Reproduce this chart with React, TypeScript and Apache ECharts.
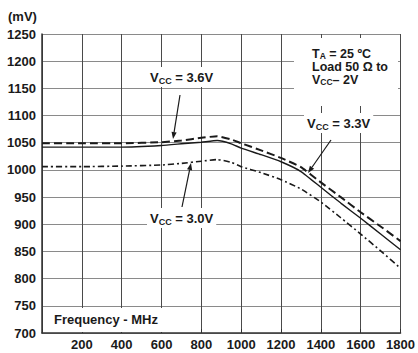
import React, { useEffect, useRef } from "react";
import * as echarts from "echarts";

const freq = [0, 200, 400, 600, 700, 800, 880, 950, 1000, 1100, 1200, 1300, 1400, 1500, 1600, 1700, 1800];
const vcc36 = [1049, 1049, 1049, 1051, 1054, 1059, 1062, 1056, 1049, 1036, 1022, 1005, 977, 950, 922, 896, 869];
const vcc33 = [1042, 1042, 1042, 1045, 1048, 1051, 1054, 1048, 1040, 1028, 1015, 997, 968, 939, 911, 882, 853];
const vcc30 = [1006, 1006, 1007, 1009, 1012, 1016, 1019, 1014, 1006, 995, 982, 965, 941, 912, 882, 851, 819];

const yMin = 700;
const yMax = 1250;
const yStep = 50;
const xMin = 0;
const xMax = 1800;
const xStep = 200;

const FONT = "'Liberation Sans', Arial, sans-serif";
const INK = "#1a1a1a";

function arrow(x1: number, y1: number, x2: number, y2: number) {
  const dx = x2 - x1;
  const dy = y2 - y1;
  const L = Math.sqrt(dx * dx + dy * dy);
  const ux = dx / L;
  const uy = dy / L;
  const len = 7;
  const w = 2.6;
  const bx = x2 - ux * len;
  const by = y2 - uy * len;
  const px = -uy;
  const py = ux;
  return [
    {
      type: "line",
      z: 5,
      shape: { x1, y1, x2: bx, y2: by },
      style: { stroke: INK, lineWidth: 1.2 },
    },
    {
      type: "polygon",
      z: 5,
      shape: {
        points: [
          [x2, y2],
          [bx + px * w, by + py * w],
          [bx - px * w, by - py * w],
        ],
      },
      style: { fill: INK },
    },
  ];
}

const rich = {
  b: { fontFamily: FONT, fontWeight: "bold", fontSize: 13, lineHeight: 16, color: INK },
  s: { fontFamily: FONT, fontWeight: "bold", fontSize: 9, lineHeight: 9, color: INK, verticalAlign: "bottom" },
};

const richBlock = {
  b: { fontFamily: FONT, fontWeight: "bold", fontSize: 12.5, lineHeight: 13, color: INK },
  s: { fontFamily: FONT, fontWeight: "bold", fontSize: 8.5, lineHeight: 8, color: INK, verticalAlign: "bottom" },
};

function label(x: number, y: number, text: string) {
  return {
    type: "text",
    z: 1,
    x,
    y,
    style: {
      text,
      rich,
      fontFamily: FONT,
      fontWeight: "bold",
      fontSize: 13,
      fill: INK,
      verticalAlign: "middle",
      backgroundColor: "#ffffff",
      padding: [2, 3, 2, 3],
    },
  };
}

export default function App() {
  const ref = useRef<HTMLDivElement>(null);
  useEffect(() => {
    if (!ref.current) return;
    const chart = echarts.init(ref.current, null, { renderer: "svg" });
    const mk = (vals: number[]) => freq.map((f, i) => [f, vals[i]]);
    chart.setOption({
      animation: false,
      backgroundColor: "#ffffff",
      grid: { left: 42, right: 12, top: 34, bottom: 20, containLabel: false },
      xAxis: {
        type: "value",
        min: xMin,
        max: xMax,
        interval: xStep,
        axisLine: { show: true, onZero: false, lineStyle: { color: "#333", width: 1.5 } },
        axisTick: { show: true, inside: true, length: 4, lineStyle: { color: "#333" } },
        axisLabel: {
          margin: 5,
          fontFamily: FONT,
          fontWeight: "bold",
          fontSize: 13,
          color: INK,
          formatter: (v: number) => (v === 0 ? "" : String(v)),
        },
        splitLine: { show: true, lineStyle: { color: "#4a4a4a", width: 1 } },
      },
      yAxis: {
        type: "value",
        min: yMin,
        max: yMax,
        interval: yStep,
        axisLine: { show: true, onZero: false, lineStyle: { color: "#333", width: 1.5 } },
        axisTick: { show: false },
        axisLabel: {
          margin: 6,
          fontFamily: FONT,
          fontWeight: "bold",
          fontSize: 13,
          color: INK,
          formatter: (v: number) => String(v),
        },
        splitLine: { show: true, lineStyle: { color: "#8a8a8a", width: 1 } },
      },
      series: [
        {
          name: "VCC = 3.6V",
          type: "line",
          data: mk(vcc36),
          smooth: 0.15,
          symbol: "none",
          lineStyle: { color: INK, width: 2, type: [8, 4] },
        },
        {
          name: "VCC = 3.3V",
          type: "line",
          data: mk(vcc33),
          smooth: 0.15,
          symbol: "none",
          lineStyle: { color: INK, width: 1.4, type: "solid" },
        },
        {
          name: "VCC = 3.0V",
          type: "line",
          data: mk(vcc30),
          smooth: 0.15,
          symbol: "none",
          lineStyle: { color: INK, width: 1.6, type: [6, 3, 2, 3] },
        },
      ],
      graphic: [
        {
          type: "text",
          z: 1,
          x: 8,
          y: 16,
          style: {
            text: "(mV)",
            fontFamily: FONT,
            fontWeight: "bold",
            fontSize: 13,
            fill: INK,
            verticalAlign: "middle",
          },
        },
        {
          type: "rect",
          z: 1,
          shape: { x: 43, y: 308, width: 122, height: 24 },
          style: { fill: "#ffffff" },
        },
        {
          type: "text",
          z: 2,
          x: 54,
          y: 319,
          style: {
            text: "Frequency - MHz",
            fontFamily: FONT,
            fontWeight: "bold",
            fontSize: 13,
            fill: INK,
            verticalAlign: "middle",
          },
        },
        {
          type: "rect",
          z: 1,
          shape: { x: 294, y: 38, width: 104, height: 68 },
          style: { fill: "#ffffff" },
        },
        {
          type: "text",
          z: 2,
          x: 312,
          y: 47,
          style: {
            text: "{b|T}{s|A}{b| = 25 ºC}\n{b|Load 50 Ω to}\n{b|V}{s|CC}{b|– 2V}",
            rich: richBlock,
            fontFamily: FONT,
            fontWeight: "bold",
            fontSize: 12.5,
            fill: INK,
            verticalAlign: "top",
          },
        },
        label(147, 77, "{b|V}{s|CC}{b| = 3.6V}"),
        label(304, 123, "{b|V}{s|CC}{b| = 3.3V}"),
        label(147, 218, "{b|V}{s|CC}{b| = 3.0V}"),
        ...arrow(180, 95, 173, 139),
        ...arrow(331, 140, 308, 173),
        ...arrow(182, 207, 191, 163),
      ],
    });
    return () => chart.dispose();
  }, []);
  return (
    <div
      ref={ref}
      style={{ position: "fixed", left: 0, top: 0, width: 418, height: 353 }}
    />
  );
}
